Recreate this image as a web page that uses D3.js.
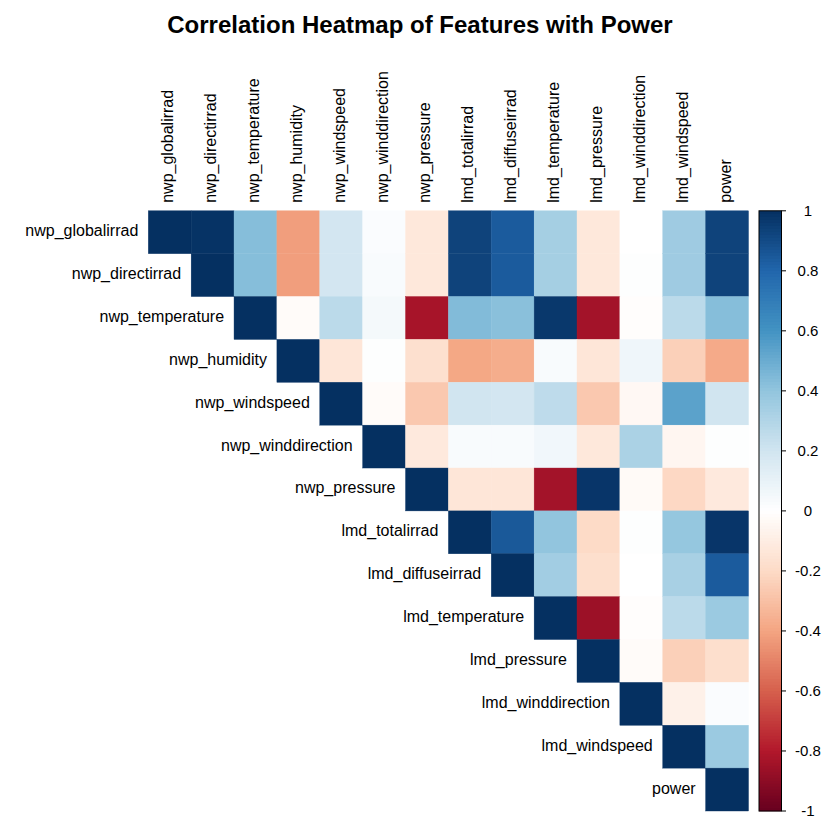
<!DOCTYPE html>
<html>
<head>
<meta charset="utf-8">
<script src="https://cdn.jsdelivr.net/npm/d3@7"></script>
<style>
  html, body { margin: 0; padding: 0; background: #ffffff; }
  svg { display: block; }
  text { font-family: "Liberation Sans", Arial, sans-serif; fill: #000; }
</style>
</head>
<body>
<svg id="chart" width="840" height="840"></svg>
<script>
// ---------- data ----------
const variables = [
  "nwp_globalirrad", "nwp_directirrad", "nwp_temperature", "nwp_humidity",
  "nwp_windspeed", "nwp_winddirection", "nwp_pressure", "lmd_totalirrad",
  "lmd_diffuseirrad", "lmd_temperature", "lmd_pressure", "lmd_winddirection",
  "lmd_windspeed", "power"
];

// upper-triangle rows (starting at the diagonal)
const rowGlobalirrad     = [1, 0.99, 0.43, -0.42, 0.19, 0.02, -0.13, 0.93, 0.84, 0.34, -0.13, 0.00, 0.36, 0.93];
const rowDirectirrad     = [1, 0.43, -0.42, 0.19, 0.03, -0.13, 0.93, 0.84, 0.34, -0.13, 0.01, 0.36, 0.93];
const rowNwpTemperature  = [1, -0.02, 0.27, 0.05, -0.83, 0.44, 0.42, 0.97, -0.84, -0.01, 0.27, 0.43];
const rowHumidity        = [1, -0.14, 0.01, -0.17, -0.39, -0.37, 0.03, -0.14, 0.07, -0.24, -0.38];
const rowNwpWindspeed    = [1, -0.02, -0.27, 0.20, 0.19, 0.26, -0.27, -0.04, 0.54, 0.20];
const rowNwpWinddir      = [1, -0.12, 0.03, 0.03, 0.06, -0.13, 0.32, -0.05, 0.01];
const rowNwpPressure     = [1, -0.14, -0.14, -0.84, 0.98, -0.03, -0.21, -0.12];
const rowTotalirrad      = [1, 0.85, 0.40, -0.20, 0.01, 0.39, 0.98];
const rowDiffuseirrad    = [1, 0.35, -0.18, 0.00, 0.33, 0.84];
const rowLmdTemperature  = [1, -0.86, -0.01, 0.27, 0.37];
const rowLmdPressure     = [1, -0.02, -0.24, -0.18];
const rowLmdWinddir      = [1, -0.08, 0.02];
const rowLmdWindspeed    = [1, 0.37];
const rowPower           = [1];

const upperRows = [
  rowGlobalirrad, rowDirectirrad, rowNwpTemperature, rowHumidity, rowNwpWindspeed,
  rowNwpWinddir, rowNwpPressure, rowTotalirrad, rowDiffuseirrad, rowLmdTemperature,
  rowLmdPressure, rowLmdWinddir, rowLmdWindspeed, rowPower
];

const legendTicks = [1, 0.8, 0.6, 0.4, 0.2, 0, -0.2, -0.4, -0.6, -0.8, -1];
const legendLabels = ["1", "0.8", "0.6", "0.4", "0.2", "0", "-0.2", "-0.4", "-0.6", "-0.8", "-1"];
const titleText = "Correlation Heatmap of Features with Power";

// ---------- build cells ----------
const cells = [];
upperRows.forEach((row, i) => {
  row.forEach((v, k) => {
    cells.push({ row: variables[i], col: variables[i + k], value: v });
  });
});

// ---------- scales ----------
const rdbu = ["#67001F", "#B2182B", "#D6604D", "#F4A582", "#FDDBC7", "#FFFFFF",
              "#D1E5F0", "#92C5DE", "#4393C3", "#2166AC", "#053061"];
const color = d3.scaleLinear()
  .domain(d3.range(11).map(i => -1 + i * 0.2))
  .range(rdbu)
  .interpolate(d3.interpolateRgb)
  .clamp(true);

const gridLeft = 148.3, gridTop = 210.8, gridSize = 600.2;
const x = d3.scaleBand().domain(variables).range([gridLeft, gridLeft + gridSize]);
const y = d3.scaleBand().domain(variables).range([gridTop, gridTop + gridSize]);

const svg = d3.select("#chart");

// title
svg.append("text")
  .attr("x", 420).attr("y", 33)
  .attr("text-anchor", "middle")
  .style("font-size", "24px")
  .style("font-weight", "bold")
  .text(titleText);

// cells
svg.append("g").selectAll("rect")
  .data(cells)
  .join("rect")
  .attr("x", d => x(d.col))
  .attr("y", d => y(d.row))
  .attr("width", x.bandwidth())
  .attr("height", y.bandwidth())
  .attr("fill", d => color(d.value))
  .attr("stroke", d => color(d.value))
  .attr("stroke-width", 0.4);

// row labels (left of diagonal)
svg.append("g").selectAll("text")
  .data(variables)
  .join("text")
  .attr("x", d => x(d) - 10)
  .attr("y", d => y(d) + y.bandwidth() / 2)
  .attr("dy", "0.25em")
  .attr("text-anchor", "end")
  .style("font-size", "16px")
  .text(d => d);

// column labels (top, rotated)
svg.append("g").selectAll("text")
  .data(variables)
  .join("text")
  .attr("transform", d => `translate(${x(d) + x.bandwidth() / 2},${gridTop - 8}) rotate(-90)`)
  .attr("dy", "0.22em")
  .attr("text-anchor", "start")
  .style("font-size", "16px")
  .text(d => d);

// ---------- colour legend ----------
const legX = 759, legW = 22.5;
const legY = d3.scaleLinear().domain([1, -1]).range([gridTop, gridTop + gridSize]);
const nStrips = 200;
const stripVals = d3.range(nStrips).map(i => 1 - (i + 0.5) * 2 / nStrips);
const stripH = gridSize / nStrips;
svg.append("g").selectAll("rect")
  .data(stripVals)
  .join("rect")
  .attr("x", legX)
  .attr("y", d => legY(d) - stripH / 2)
  .attr("width", legW)
  .attr("height", stripH + 0.3)
  .attr("fill", d => color(d));

svg.append("rect")
  .attr("x", legX).attr("y", gridTop)
  .attr("width", legW).attr("height", gridSize)
  .attr("fill", "none")
  .attr("stroke", "#000")
  .attr("stroke-width", 1);

const legAxis = svg.append("g");
legAxis.selectAll("line")
  .data(legendTicks)
  .join("line")
  .attr("x1", legX + legW).attr("x2", legX + legW + 4.5)
  .attr("y1", d => legY(d)).attr("y2", d => legY(d))
  .attr("stroke", "#000").attr("stroke-width", 1);
legAxis.selectAll("text")
  .data(legendTicks)
  .join("text")
  .attr("x", 808)
  .attr("y", d => legY(d))
  .attr("dy", "0.35em")
  .attr("text-anchor", "middle")
  .style("font-size", "15px")
  .text((d, i) => legendLabels[i]);
</script>
</body>
</html>
